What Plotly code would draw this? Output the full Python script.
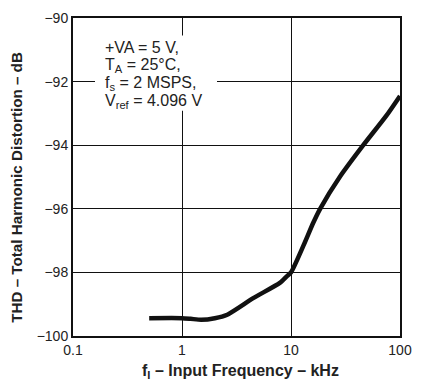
import plotly.graph_objects as go

freq_khz = [0.5, 1.0, 1.2, 1.5, 2.0, 2.6, 4.5, 7.9, 9.1, 10, 13, 16, 18.5, 28, 46, 75, 100]
thd_db = [-99.44, -99.44, -99.46, -99.49, -99.44, -99.33, -98.81, -98.33, -98.13, -98.0,
          -97.16, -96.44, -96.0, -95.0, -94.0, -93.07, -92.45]

x_tickvals = [0.1, 1, 10, 100]
x_ticktext = ["0.1", "1", "10", "100"]
y_tickvals = [-100, -98, -96, -94, -92, -90]
y_ticktext = ["\u2212100", "\u221298", "\u221296", "\u221294", "\u221292", "\u221290"]

cond_lines = ["+VA = 5 V,", "T<sub>A</sub> = 25°C,", "f<sub>s</sub> = 2 MSPS,", "V<sub>ref</sub> = 4.096 V"]

FONT = "Liberation Sans, Arial, sans-serif"
TXT = "#222222"

# plot-area geometry in pixels (for paper-coordinate conversions)
L, R, T, B = 73, 400, 10, 336
W, H = R - L, B - T


def px(x):
    return (x - L) / W


def py(y):
    return 1 - (y - T) / H


fig = go.Figure()
fig.add_trace(go.Scatter(x=freq_khz, y=thd_db, mode="lines",
                         line=dict(color="#111111", width=4.5, shape="spline", smoothing=0.6),
                         showlegend=False, hoverinfo="skip"))

annotations = []
line_centers = [40.5, 59, 77.5, 96]
for txt, yc in zip(cond_lines, line_centers):
    annotations.append(dict(text=txt, xref="paper", yref="paper", x=px(103), y=py(yc),
                            xanchor="left", yanchor="middle", align="left", showarrow=False,
                            font=dict(family=FONT, size=16, color=TXT)))
annotations.append(dict(text="<b>f<sub>I</sub> – Input Frequency – kHz</b>",
                        xref="paper", yref="paper", x=px(240), y=py(372),
                        xanchor="center", yanchor="middle", showarrow=False,
                        font=dict(family=FONT, size=16, color=TXT)))
annotations.append(dict(text="<b>THD – Total Harmonic Distortion – dB</b>",
                        xref="paper", yref="paper", x=px(17), y=py(184),
                        xanchor="center", yanchor="middle", textangle=-90, showarrow=False,
                        font=dict(family=FONT, size=15.2, color=TXT)))

fig.update_layout(
    width=430, height=383,
    margin=dict(l=L, r=430 - R, t=T, b=383 - B),
    paper_bgcolor="white", plot_bgcolor="white",
    font=dict(family=FONT, size=14, color=TXT),
    xaxis=dict(type="log", range=[-1, 2], tickvals=x_tickvals, ticktext=x_ticktext,
               showgrid=True, gridcolor="#111111", gridwidth=1,
               showline=True, linecolor="#111111", linewidth=2, mirror=True,
               ticks="", zeroline=False, tickfont=dict(size=14, color=TXT)),
    yaxis=dict(range=[-100, -90], tickvals=y_tickvals, ticktext=y_ticktext,
               showgrid=True, gridcolor="#111111", gridwidth=1,
               showline=True, linecolor="#111111", linewidth=2, mirror=True,
               ticks="", zeroline=False, tickfont=dict(size=14, color=TXT)),
    shapes=[dict(type="rect", xref="paper", yref="paper", x0=px(95), x1=px(217),
                 y0=py(105), y1=py(28), fillcolor="white", line=dict(width=0), layer="above")],
    annotations=annotations,
)

fig.write_html("out.html", config={"displayModeBar": False},
               post_script="document.body.style.margin='0';document.body.style.overflow='hidden';")
